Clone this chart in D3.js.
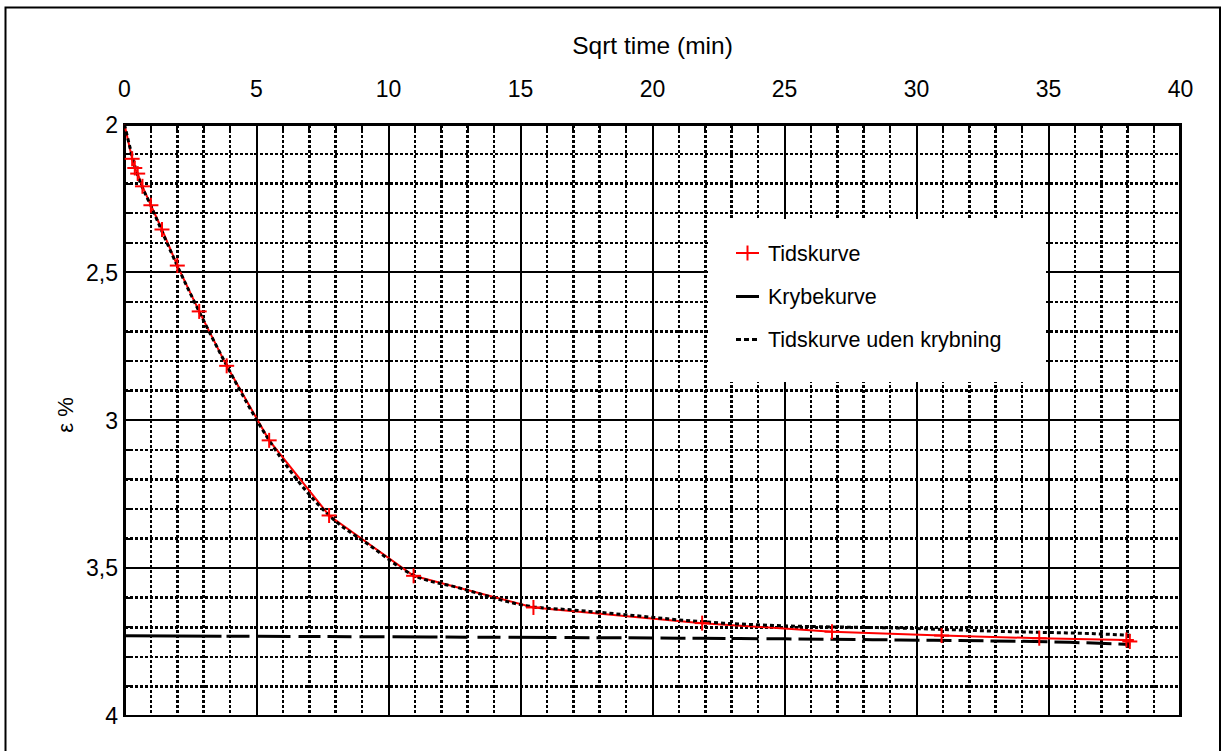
<!DOCTYPE html>
<html><head><meta charset="utf-8">
<script src="https://cdn.jsdelivr.net/npm/d3@7"></script>
<style>
body{margin:0;background:#fff}
svg{display:block}
text{font-family:Arial,"Liberation Sans",Helvetica,sans-serif;fill:#000}
</style>
</head><body>
<svg id="chart" width="1225" height="751"></svg>
<script>
// ---------- data ----------
const xTickValues = [0, 5, 10, 15, 20, 25, 30, 35, 40];
const xTickLabels = ["0", "5", "10", "15", "20", "25", "30", "35", "40"];
const yTickValues = [2, 2.5, 3, 3.5, 4];
const yTickLabels = ["2", "2,5", "3", "3,5", "4"];

// Tidskurve (measured points, sqrt time vs strain)
const tidX = [0, 0.29, 0.39, 0.50, 0.68, 1.0, 1.42, 2.0, 2.83, 3.87, 5.48, 7.75, 10.95, 15.49, 21.88, 26.8, 30.95, 34.65, 37.95, 38.08];
const tidY = [2.0, 2.116, 2.147, 2.166, 2.209, 2.273, 2.355, 2.477, 2.632, 2.816, 3.068, 3.322, 3.526, 3.633, 3.686, 3.715, 3.728, 3.737, 3.743, 3.748];

// Krybekurve
const krybX = [0, 14.2, 23.3, 29.4, 35.8, 38.1];
const krybY = [3.729, 3.734, 3.738, 3.743, 3.751, 3.758];

// Tidskurve uden krybning
const udenX = [0, 0.5, 1, 2, 2.83, 3.87, 5.48, 7.75, 9.3, 10.95, 12.6, 15.49, 16.9, 19.5, 21, 22.7, 25, 29.5, 33.6, 36.5, 38.1];
const udenY = [2.0, 2.172, 2.275, 2.478, 2.633, 2.815, 3.068, 3.322, 3.424, 3.524, 3.565, 3.631, 3.641, 3.662, 3.675, 3.686, 3.695, 3.703, 3.715, 3.721, 3.727];

const legendLabels = ["Tidskurve", "Krybekurve", "Tidskurve uden krybning"];
const xTitle = "Sqrt time (min)";
const yTitle = "ε %";

// ---------- layout ----------
const svg = d3.select("#chart");
const L = 124.5, R = 1180.5, T = 124.5, B = 716;
const x = d3.scaleLinear().domain([0, 40]).range([L, R]);
const y = d3.scaleLinear().domain([2, 4]).range([T, B]);

// outer frame
svg.append("rect").attr("x", 5.5).attr("y", 7.5).attr("width", 1214.5).attr("height", 760)
  .attr("fill", "#fff").attr("stroke", "#000").attr("stroke-width", 2);

// plot background
svg.append("rect").attr("x", L).attr("y", T).attr("width", R - L).attr("height", B - T).attr("fill", "#fff");

const grid = svg.append("g").attr("shape-rendering", "crispEdges");
const xGrid = d3.range(0, 41, 1);
const yGrid = d3.range(0, 21, 1).map(k => 2 + k * 0.1);

// minor dotted
grid.selectAll(".vminor").data(xGrid.filter(v => v % 5 !== 0)).join("line")
  .attr("x1", d => x(d)).attr("x2", d => x(d)).attr("y1", T).attr("y2", B)
  .attr("stroke", "#000").attr("stroke-width", 2.5).attr("stroke-dasharray", "3,2");
grid.selectAll(".hminor").data(yGrid.filter((v, i) => i % 5 !== 0)).join("line")
  .attr("y1", d => y(d)).attr("y2", d => y(d)).attr("x1", L).attr("x2", R)
  .attr("stroke", "#000").attr("stroke-width", 2.5).attr("stroke-dasharray", "3,2");
// major solid
grid.selectAll(".vmajor").data(xTickValues).join("line")
  .attr("x1", d => x(d)).attr("x2", d => x(d)).attr("y1", T).attr("y2", B)
  .attr("stroke", "#000").attr("stroke-width", 2);
grid.selectAll(".hmajor").data(yTickValues).join("line")
  .attr("y1", d => y(d)).attr("y2", d => y(d)).attr("x1", L).attr("x2", R)
  .attr("stroke", "#000").attr("stroke-width", 2);

// inward ticks on top and left
grid.selectAll(".ttick").data(xGrid).join("line")
  .attr("x1", d => x(d)).attr("x2", d => x(d)).attr("y1", T).attr("y2", T + 7)
  .attr("stroke", "#000").attr("stroke-width", 2);
grid.selectAll(".ltick").data(yGrid).join("line")
  .attr("y1", d => y(d)).attr("y2", d => y(d)).attr("x1", L).attr("x2", L + 7)
  .attr("stroke", "#000").attr("stroke-width", 2);

// plot border
grid.append("rect").attr("x", L).attr("y", T).attr("width", R - L).attr("height", B - T)
  .attr("fill", "none").attr("stroke", "#000").attr("stroke-width", 2.5);

// tick labels
svg.selectAll(".xl").data(xTickValues).join("text")
  .attr("x", d => x(d)).attr("y", 97).attr("text-anchor", "middle")
  .attr("font-size", 23).text((d, i) => xTickLabels[i]);
svg.selectAll(".yl").data(yTickValues).join("text")
  .attr("x", 118).attr("y", d => y(d)).attr("dy", "0.36em").attr("text-anchor", "end")
  .attr("font-size", 23).text((d, i) => yTickLabels[i]);

// titles
svg.append("text").attr("x", (L + R) / 2).attr("y", 54).attr("text-anchor", "middle")
  .attr("font-size", 24.5).text(xTitle);
svg.append("text").attr("transform", "translate(73,415) rotate(-90)").attr("text-anchor", "middle")
  .attr("font-size", 22).attr("font-family", "'Liberation Serif','DejaVu Serif',serif").text(yTitle);

// ---------- series ----------
const plot = svg.append("g");
const kryb = krybX.map((v, i) => [v, krybY[i]]);
const tid = tidX.map((v, i) => [v, tidY[i]]);
const uden = udenX.map((v, i) => [v, udenY[i]]);

const krybDash = "97,5,23,8,33,8,22,7,24,8,25,8,45,8,22,10,23,8,48,8,25,7,25,7,25,7,25,7,33,6,27,8," +
  d3.range(14).map(() => "25,7").join(",");

plot.append("path").datum(kryb)
  .attr("d", d3.line().x(d => x(d[0])).y(d => y(d[1])).curve(d3.curveMonotoneX))
  .attr("fill", "none").attr("stroke", "#000").attr("stroke-width", 3).attr("stroke-dasharray", krybDash);

plot.append("path").datum(tid)
  .attr("d", d3.line().x(d => x(d[0])).y(d => y(d[1])))
  .attr("fill", "none").attr("stroke", "#ff0000").attr("stroke-width", 2);

plot.append("path").datum(uden)
  .attr("d", d3.line().x(d => x(d[0])).y(d => y(d[1])).curve(d3.curveMonotoneX))
  .attr("fill", "none").attr("stroke", "#000").attr("stroke-width", 3).attr("stroke-dasharray", "4,3");

const ms = 7.5;
const mk = plot.selectAll(".mk").data(tid.slice(1)).join("g")
  .attr("transform", d => `translate(${x(d[0])},${y(d[1])})`);
mk.append("line").attr("x1", -ms).attr("x2", ms).attr("stroke", "#ff0000").attr("stroke-width", 2);
mk.append("line").attr("y1", -ms).attr("y2", ms).attr("stroke", "#ff0000").attr("stroke-width", 2);

// ---------- legend ----------
const lg = svg.append("g");
lg.append("rect").attr("x", 708).attr("y", 219).attr("width", 338).attr("height", 163).attr("fill", "#fff");
const rowY = [253, 296.5, 339.5];
const sx1 = 736, sx2 = 759;
lg.append("line").attr("x1", sx1).attr("x2", sx2).attr("y1", rowY[0]).attr("y2", rowY[0])
  .attr("stroke", "#ff0000").attr("stroke-width", 2);
lg.append("line").attr("x1", (sx1 + sx2) / 2).attr("x2", (sx1 + sx2) / 2).attr("y1", rowY[0] - ms).attr("y2", rowY[0] + ms)
  .attr("stroke", "#ff0000").attr("stroke-width", 2);
lg.append("line").attr("x1", sx1).attr("x2", sx2).attr("y1", rowY[1]).attr("y2", rowY[1])
  .attr("stroke", "#000").attr("stroke-width", 3);
lg.append("line").attr("x1", sx1).attr("x2", sx2).attr("y1", rowY[2]).attr("y2", rowY[2])
  .attr("stroke", "#000").attr("stroke-width", 3).attr("stroke-dasharray", "5,3");
lg.selectAll(".lt").data(legendLabels).join("text")
  .attr("x", 768).attr("y", (d, i) => rowY[i]).attr("dy", "0.36em")
  .attr("font-size", 21.5).text(d => d);
</script>
</body></html>
